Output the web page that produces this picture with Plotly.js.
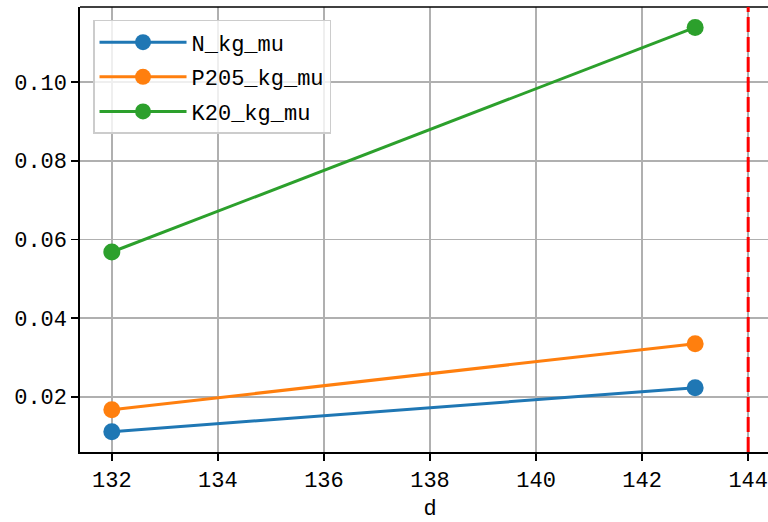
<!DOCTYPE html>
<html>
<head>
<meta charset="utf-8">
<script src="https://cdn.plot.ly/plotly-3.0.1.min.js"></script>
<style>html,body{margin:0;padding:0;overflow:hidden;background:#fff;}</style>
</head>
<body>
<div id="chart" style="width:800px;height:522px;"></div>
<script>
const days = [132, 143];
const nKgMu = [0.0111, 0.0223];
const p2o5KgMu = [0.0167, 0.0335];
const k2oKgMu = [0.0568, 0.1139];
const seriesNames = ['N_kg_mu', 'P205_kg_mu', 'K20_kg_mu'];
const seriesColors = ['#1f77b4', '#ff7f0e', '#2ca02c'];
const thresholdDay = 144;
const xTicks = [132, 134, 136, 138, 140, 142, 144];
const yTicks = [0.02, 0.04, 0.06, 0.08, 0.10];
const yTickText = ['0.02', '0.04', '0.06', '0.08', '0.10'];

const font = "'Liberation Mono', monospace";
const allSeries = [nKgMu, p2o5KgMu, k2oKgMu];
const traces = allSeries.map((ys, i) => ({
  x: days, y: ys, name: seriesNames[i], type: 'scatter', mode: 'lines+markers',
  legendgroup: 'g' + i,
  line: {color: seriesColors[i], width: 3},
  marker: {color: seriesColors[i], size: 17}
}));

const layout = {
  width: 800, height: 522,
  margin: {l: 80, r: 20, t: 7, b: 70},
  paper_bgcolor: '#fff', plot_bgcolor: '#fff',
  font: {family: font, size: 22, color: '#000'},
  showlegend: true,
  legend: {
    x: 0.0186, y: 0.971, xanchor: 'left', yanchor: 'top',
    bgcolor: 'rgba(255,255,255,0.8)', bordercolor: '#cccccc', borderwidth: 1.5,
    font: {family: font, size: 22, color: '#000'},
    itemwidth: 87, tracegroupgap: 3
  },
  xaxis: {
    range: [131.4, 144.6], tickvals: xTicks, ticktext: xTicks.map(String),
    showgrid: true, gridcolor: '#b0b0b0', gridwidth: 1.6,
    showline: true, linecolor: '#000', linewidth: 1.6, mirror: false,
    ticks: 'outside', ticklen: 7, tickwidth: 1.6, tickcolor: '#000',
    zeroline: false,
    title: {text: 'd', font: {family: font, size: 22, color: '#000'}, standoff: 10}
  },
  yaxis: {
    range: [0.00595, 0.1191], tickvals: yTicks, ticktext: yTickText,
    showgrid: true, gridcolor: '#b0b0b0', gridwidth: 1.6,
    showline: true, linecolor: '#000', linewidth: 1.6,
    ticks: 'outside', ticklen: 7, tickwidth: 1.6, tickcolor: '#000',
    zeroline: false
  },
  shapes: [
    {type: 'line', xref: 'paper', yref: 'paper', x0: 0, x1: 1, y0: 1, y1: 1,
     line: {color: '#000', width: 1.6}},
    {type: 'line', xref: 'x', yref: 'paper', x0: thresholdDay, x1: thresholdDay, y0: 0, y1: 1,
     line: {color: '#ff0000', width: 3, dash: '15px,5px'}}
  ]
};
Plotly.newPlot('chart', traces, layout, {displayModeBar: false, staticPlot: true});
</script>
</body>
</html>
